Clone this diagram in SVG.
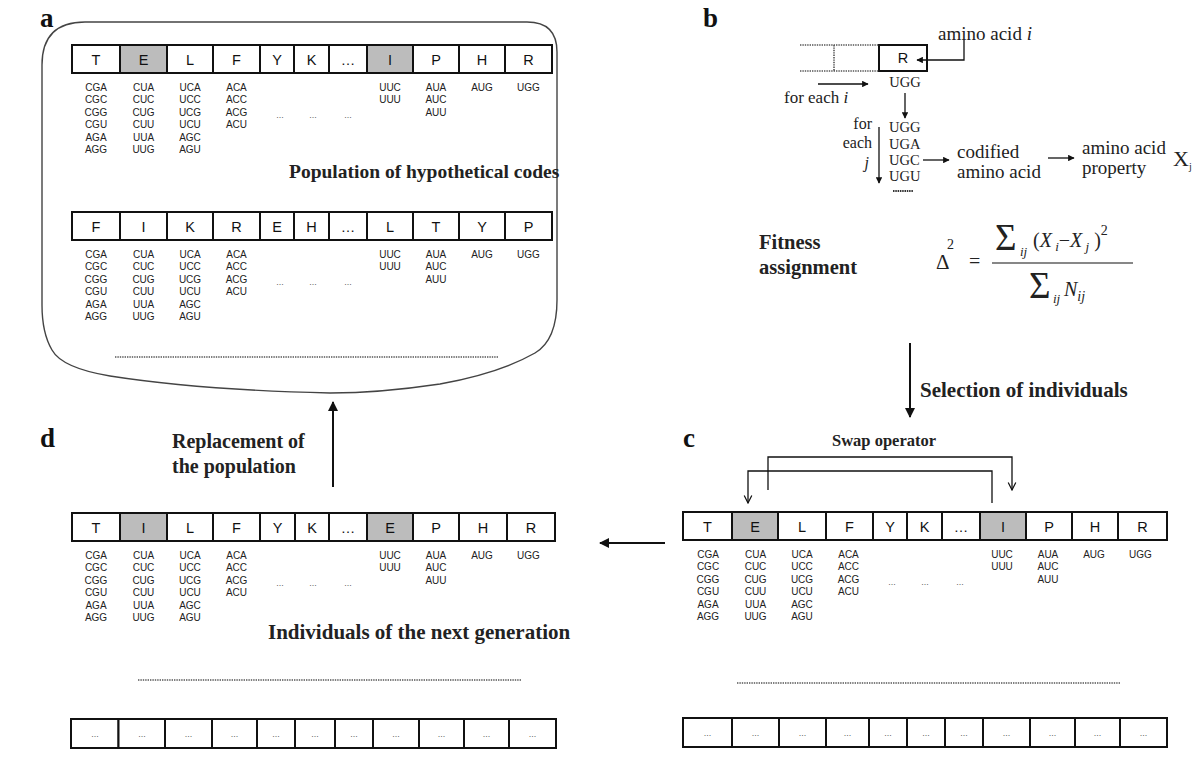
<svg xmlns="http://www.w3.org/2000/svg" width="1200" height="760" viewBox="0 0 1200 760">
<defs>
<style>
.cell{fill:#fff;stroke:#111;stroke-width:2}
.sh{fill:#bcbcbc}
.lt{font-family:"Liberation Sans",Arial,sans-serif;font-size:14.5px;fill:#111;text-anchor:middle}
.cd{font-family:"Liberation Sans",Arial,sans-serif;font-size:10px;fill:#222;text-anchor:middle}
.el{font-family:"Liberation Sans",Arial,sans-serif;font-size:9px;fill:#666;text-anchor:middle}
.bl{font-family:"Liberation Serif","Times New Roman",serif;font-weight:bold;fill:#222}
.sf{font-family:"Liberation Serif","Times New Roman",serif;fill:#222}
.pl{font-family:"Liberation Serif","Times New Roman",serif;font-weight:bold;font-size:27px;fill:#111}
.ln{fill:none;stroke:#111;stroke-width:2}
.thin{fill:none;stroke:#111;stroke-width:1.3}
.dot{fill:none;stroke:#555;stroke-width:1.6;stroke-dasharray:1.4 1}
</style>
<marker id="ah" viewBox="0 0 10 10" refX="9" refY="5" markerWidth="5" markerHeight="5" orient="auto" markerUnits="strokeWidth"><path d="M0,0 L10,5 L0,10 Z" fill="#111"/></marker>
<marker id="ahs" viewBox="0 0 10 10" refX="9" refY="5" markerWidth="6" markerHeight="5" orient="auto" markerUnits="strokeWidth"><path d="M0,0 L10,5 L0,10 Z" fill="#111"/></marker>
<marker id="chev" viewBox="0 0 12 12" refX="11" refY="6" markerWidth="7" markerHeight="7" orient="auto" markerUnits="strokeWidth"><path d="M1,1 L11,6 L1,11" fill="none" stroke="#111" stroke-width="1.6"/></marker>
<g id="codons">
<text class="cd" x="24" y="18"><tspan x="24">CGA</tspan><tspan x="24" dy="12.4">CGC</tspan><tspan x="24" dy="12.4">CGG</tspan><tspan x="24" dy="12.4">CGU</tspan><tspan x="24" dy="12.4">AGA</tspan><tspan x="24" dy="12.4">AGG</tspan></text>
<text class="cd" x="71.5" y="18"><tspan x="71.5">CUA</tspan><tspan x="71.5" dy="12.4">CUC</tspan><tspan x="71.5" dy="12.4">CUG</tspan><tspan x="71.5" dy="12.4">CUU</tspan><tspan x="71.5" dy="12.4">UUA</tspan><tspan x="71.5" dy="12.4">UUG</tspan></text>
<text class="cd" x="118" y="18"><tspan x="118">UCA</tspan><tspan x="118" dy="12.4">UCC</tspan><tspan x="118" dy="12.4">UCG</tspan><tspan x="118" dy="12.4">UCU</tspan><tspan x="118" dy="12.4">AGC</tspan><tspan x="118" dy="12.4">AGU</tspan></text>
<text class="cd" x="164.5" y="18"><tspan x="164.5">ACA</tspan><tspan x="164.5" dy="12.4">ACC</tspan><tspan x="164.5" dy="12.4">ACG</tspan><tspan x="164.5" dy="12.4">ACU</tspan></text>
<text class="el" x="208" y="45">...</text>
<text class="el" x="241" y="45">...</text>
<text class="el" x="276" y="45">...</text>
<text class="cd" x="318" y="18"><tspan x="318">UUC</tspan><tspan x="318" dy="12.4">UUU</tspan></text>
<text class="cd" x="364" y="18"><tspan x="364">AUA</tspan><tspan x="364" dy="12.4">AUC</tspan><tspan x="364" dy="12.4">AUU</tspan></text>
<text class="cd" x="410" y="18">AUG</text>
<text class="cd" x="456.5" y="18">UGG</text>
</g>
</defs>
<rect width="1200" height="760" fill="#fff"/>

<!-- panel a -->
<g id="panel-a">
<path d="M85,22 L527,22 Q557,22 557,52 L557,300 Q557,340 535,353 Q500,373 440,384 Q380,393 330,393 Q200,390 110,376 Q62,368 52,350 Q42,333 42,305 L42,65 Q42,22 85,22 Z" fill="none" stroke="#444" stroke-width="1.4"/>
<text class="pl" x="40" y="27">a</text>
<g id="row-a1" transform="translate(72,45)">
<rect class="cell" x="0" y="0" width="48" height="28"/><rect class="cell sh" x="48" y="0" width="47" height="28"/><rect class="cell" x="95" y="0" width="46" height="28"/><rect class="cell" x="141" y="0" width="47" height="28"/><rect class="cell" x="188" y="0" width="34" height="28"/><rect class="cell" x="222" y="0" width="35" height="28"/><rect class="cell" x="257" y="0" width="38" height="28"/><rect class="cell sh" x="295" y="0" width="46" height="28"/><rect class="cell" x="341" y="0" width="46" height="28"/><rect class="cell" x="387" y="0" width="46" height="28"/><rect class="cell" x="433" y="0" width="47" height="28"/>
<text class="lt" y="19.5"><tspan x="24">T</tspan><tspan x="71.5">E</tspan><tspan x="118">L</tspan><tspan x="164.5">F</tspan><tspan x="205">Y</tspan><tspan x="239.5">K</tspan><tspan x="276">…</tspan><tspan x="318">I</tspan><tspan x="364">P</tspan><tspan x="410">H</tspan><tspan x="456.5">R</tspan></text>
<use href="#codons" y="28"/>
</g>
<text class="bl" x="289" y="178" font-size="19.5">Population of hypothetical codes</text>
<g id="row-a2" transform="translate(72,212)">
<rect class="cell" x="0" y="0" width="48" height="28"/><rect class="cell" x="48" y="0" width="47" height="28"/><rect class="cell" x="95" y="0" width="46" height="28"/><rect class="cell" x="141" y="0" width="47" height="28"/><rect class="cell" x="188" y="0" width="34" height="28"/><rect class="cell" x="222" y="0" width="35" height="28"/><rect class="cell" x="257" y="0" width="38" height="28"/><rect class="cell" x="295" y="0" width="46" height="28"/><rect class="cell" x="341" y="0" width="46" height="28"/><rect class="cell" x="387" y="0" width="46" height="28"/><rect class="cell" x="433" y="0" width="47" height="28"/>
<text class="lt" y="19.5"><tspan x="24">F</tspan><tspan x="71.5">I</tspan><tspan x="118">K</tspan><tspan x="164.5">R</tspan><tspan x="205">E</tspan><tspan x="239.5">H</tspan><tspan x="276">…</tspan><tspan x="318">L</tspan><tspan x="364">T</tspan><tspan x="410">Y</tspan><tspan x="456.5">P</tspan></text>
<use href="#codons" y="28"/>
</g>
<line class="dot" x1="115" y1="357" x2="498" y2="357"/>
</g>

<!-- panel b -->
<g id="panel-b">
<text class="pl" x="703" y="27">b</text>
<rect x="879" y="45" width="48" height="26" fill="#fff" stroke="#111" stroke-width="2"/>
<text class="lt" x="903" y="63">R</text>
<path class="dot" d="M800,45 H879 M800,71 H879 M834,45 V71"/>
<text class="sf" x="938" y="40" font-size="19">amino acid <tspan font-style="italic">i</tspan></text>
<text class="sf" x="905" y="87" font-size="14.5" text-anchor="middle">UGG</text>
<text class="sf" x="784" y="103" font-size="17">for each <tspan font-style="italic">i</tspan></text>
<text class="sf" x="872" y="129" font-size="16" text-anchor="end">for</text>
<text class="sf" x="872" y="148" font-size="16" text-anchor="end">each</text>
<text class="sf" x="869" y="168" font-size="16" text-anchor="end" font-style="italic">j</text>
<text class="sf" font-size="14.5"><tspan x="889" y="132">UGG</tspan><tspan x="889" y="149">UGA</tspan><tspan x="889" y="165">UGC</tspan><tspan x="889" y="181">UGU</tspan></text>
<line x1="893" y1="191" x2="913" y2="191" stroke="#333" stroke-width="2" stroke-dasharray="1.5 0.8"/>
<text class="sf" x="957" y="158" font-size="19">codified</text>
<text class="sf" x="957" y="178" font-size="19">amino acid</text>
<text class="sf" x="1082" y="154" font-size="19">amino acid</text>
<text class="sf" x="1082" y="174" font-size="19">property</text>
<text class="sf" x="1173" y="166" font-size="22">X<tspan font-size="10" dy="4">j</tspan></text>
<text class="bl" x="759" y="249" font-size="20.5">Fitness</text>
<text class="bl" x="759" y="274" font-size="20.5">assignment</text>
<text class="sf" x="936" y="269" font-size="21">Δ</text>
<text class="sf" x="947" y="249" font-size="14">2</text>
<text class="sf" x="969" y="268" font-size="20">=</text>
<text class="sf" x="995" y="250" font-size="37">Σ</text>
<text class="sf" x="1020" y="256" font-size="13" font-style="italic">ij</text>
<text class="sf" x="1033" y="247" font-size="20">(<tspan font-style="italic">X</tspan><tspan font-size="13" font-style="italic" dy="4"> i</tspan><tspan dy="-4">−</tspan><tspan font-style="italic">X</tspan><tspan font-size="13" font-style="italic" dy="4"> j</tspan><tspan dy="-4"> )</tspan><tspan font-size="14" dy="-12">2</tspan></text>
<line x1="992" y1="263" x2="1133" y2="263" stroke="#111" stroke-width="1.2"/>
<text class="sf" x="1029" y="298" font-size="37">Σ</text>
<text class="sf" x="1053" y="303" font-size="13" font-style="italic">ij</text>
<text class="sf" x="1064" y="296" font-size="20" font-style="italic">N<tspan font-size="14" dy="5">ij</tspan></text>
</g>

<!-- panel c -->
<g id="panel-c">
<text class="pl" x="683" y="447">c</text>
<text class="bl" x="832" y="446" font-size="16.5">Swap operator</text>
<g id="row-c" transform="translate(683,512)">
<rect class="cell" x="0" y="0" width="49" height="28"/><rect class="cell sh" x="49" y="0" width="46" height="28"/><rect class="cell" x="95" y="0" width="48" height="28"/><rect class="cell" x="143" y="0" width="47" height="28"/><rect class="cell" x="190" y="0" width="34" height="28"/><rect class="cell" x="224" y="0" width="35" height="28"/><rect class="cell" x="259" y="0" width="38" height="28"/><rect class="cell sh" x="297" y="0" width="46" height="28"/><rect class="cell" x="343" y="0" width="46" height="28"/><rect class="cell" x="389" y="0" width="46" height="28"/><rect class="cell" x="435" y="0" width="49" height="28"/>
<text class="lt" y="19.5"><tspan x="24.5">T</tspan><tspan x="72">E</tspan><tspan x="119">L</tspan><tspan x="166.5">F</tspan><tspan x="207">Y</tspan><tspan x="241.5">K</tspan><tspan x="278">…</tspan><tspan x="320">I</tspan><tspan x="366">P</tspan><tspan x="412">H</tspan><tspan x="459.5">R</tspan></text>
<use href="#codons" x="1" y="28"/>
</g>
<line class="dot" x1="737" y1="683" x2="1121" y2="683"/>
<g id="row-c-bottom" transform="translate(683,718)">
<rect class="cell" x="0" y="0" width="49" height="29"/><rect class="cell" x="49" y="0" width="47" height="29"/><rect class="cell" x="96" y="0" width="47" height="29"/><rect class="cell" x="143" y="0" width="43" height="29"/><rect class="cell" x="186" y="0" width="38" height="29"/><rect class="cell" x="224" y="0" width="38" height="29"/><rect class="cell" x="262" y="0" width="38" height="29"/><rect class="cell" x="300" y="0" width="47" height="29"/><rect class="cell" x="347" y="0" width="45" height="29"/><rect class="cell" x="392" y="0" width="45" height="29"/><rect class="cell" x="437" y="0" width="47" height="29"/>
<text class="el" y="18" font-size="11" fill="#444"><tspan x="24.5">...</tspan><tspan x="72.5">...</tspan><tspan x="119.5">...</tspan><tspan x="164.5">...</tspan><tspan x="205">...</tspan><tspan x="243">...</tspan><tspan x="281">...</tspan><tspan x="323.5">...</tspan><tspan x="369.5">...</tspan><tspan x="414.5">...</tspan><tspan x="460.5">...</tspan></text>
</g>
</g>

<!-- panel d -->
<g id="panel-d">
<text class="pl" x="40" y="447">d</text>
<text class="bl" x="172" y="448" font-size="20">Replacement of</text>
<text class="bl" x="172" y="473" font-size="20">the population</text>
<g id="row-d" transform="translate(72,513)">
<rect class="cell" x="0" y="0" width="48" height="28"/><rect class="cell sh" x="48" y="0" width="47" height="28"/><rect class="cell" x="95" y="0" width="46" height="28"/><rect class="cell" x="141" y="0" width="47" height="28"/><rect class="cell" x="188" y="0" width="35" height="28"/><rect class="cell" x="223" y="0" width="34" height="28"/><rect class="cell" x="257" y="0" width="38" height="28"/><rect class="cell sh" x="295" y="0" width="46" height="28"/><rect class="cell" x="341" y="0" width="46" height="28"/><rect class="cell" x="387" y="0" width="48" height="28"/><rect class="cell" x="435" y="0" width="48" height="28"/>
<text class="lt" y="19.5"><tspan x="24">T</tspan><tspan x="71.5">I</tspan><tspan x="118">L</tspan><tspan x="164.5">F</tspan><tspan x="205.5">Y</tspan><tspan x="240">K</tspan><tspan x="276">…</tspan><tspan x="318">E</tspan><tspan x="364">P</tspan><tspan x="411">H</tspan><tspan x="459">R</tspan></text>
<use href="#codons" y="28"/>
</g>
<text class="bl" x="268" y="639" font-size="21">Individuals of the next generation</text>
<line class="dot" x1="138" y1="680" x2="522" y2="680"/>
<g id="row-d-bottom" transform="translate(71,719)">
<rect class="cell" x="0" y="0" width="47.5" height="29"/><rect class="cell" x="47.5" y="0" width="46.5" height="29"/><rect class="cell" x="94" y="0" width="47" height="29"/><rect class="cell" x="141" y="0" width="45" height="29"/><rect class="cell" x="186" y="0" width="38" height="29"/><rect class="cell" x="224" y="0" width="40" height="29"/><rect class="cell" x="264" y="0" width="38" height="29"/><rect class="cell" x="302" y="0" width="46" height="29"/><rect class="cell" x="348" y="0" width="45" height="29"/><rect class="cell" x="393" y="0" width="45" height="29"/><rect class="cell" x="438" y="0" width="47" height="29"/>
<text class="el" y="18" font-size="11" fill="#444"><tspan x="24">...</tspan><tspan x="71">...</tspan><tspan x="117.5">...</tspan><tspan x="163.5">...</tspan><tspan x="205">...</tspan><tspan x="244">...</tspan><tspan x="283">...</tspan><tspan x="325">...</tspan><tspan x="370.5">...</tspan><tspan x="415.5">...</tspan><tspan x="461.5">...</tspan></text>
</g>
</g>

<!-- connectors -->
<g id="connectors">
<line class="ln" x1="910" y1="343" x2="910" y2="417" marker-end="url(#ah)"/>
<text class="bl" x="920" y="397" font-size="21">Selection of individuals</text>
<line class="ln" x1="665" y1="543" x2="600" y2="543" marker-end="url(#ah)"/>
<line class="ln" x1="333" y1="487" x2="333" y2="402" marker-end="url(#ah)"/>
<polyline class="thin" points="768,490 768,457 1012,457 1012,490" marker-end="url(#chev)"/>
<polyline class="thin" points="992,503 992,471 748,471 748,503" marker-end="url(#chev)"/>
<polyline class="thin" points="964,40 964,60 917,60" marker-end="url(#ahs)"/>
<line class="thin" x1="818" y1="84" x2="868" y2="84" marker-end="url(#ahs)"/>
<line class="thin" x1="905" y1="93" x2="905" y2="118" marker-end="url(#ah)"/>
<line class="thin" x1="879" y1="127" x2="879" y2="183" marker-end="url(#ahs)"/>
<line class="thin" x1="923" y1="160" x2="949" y2="160" marker-end="url(#ahs)"/>
<line class="thin" x1="1048" y1="158" x2="1074" y2="158" marker-end="url(#ahs)"/>
</g>
</svg>
